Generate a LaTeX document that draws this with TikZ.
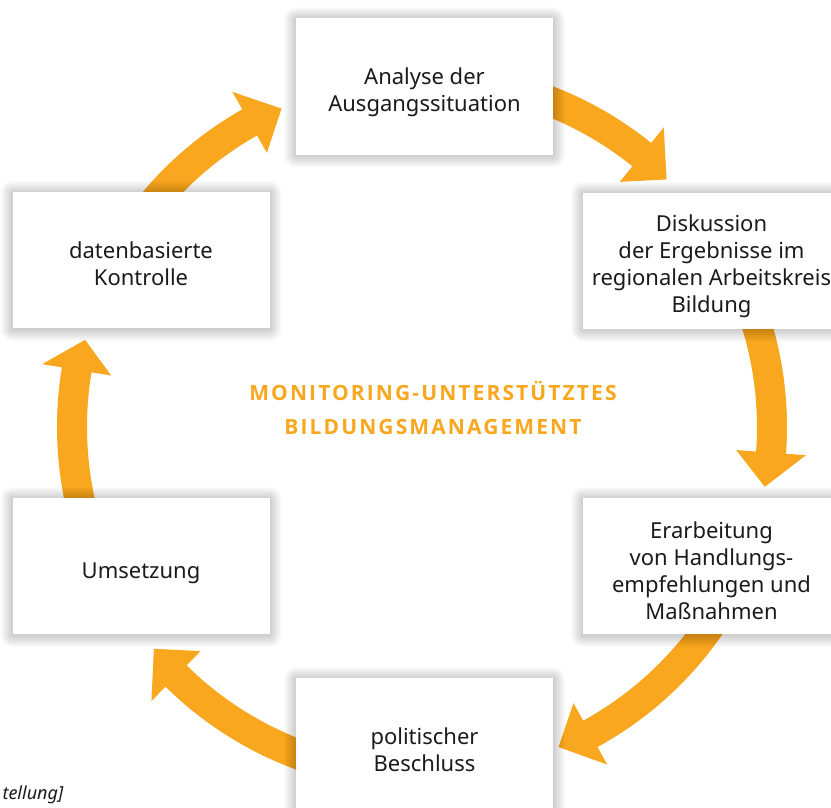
\documentclass[tikz,border=0pt]{standalone}
\usepackage{fontspec}
\setmainfont{Noto Sans}
\usetikzlibrary{calc}
\definecolor{flow}{HTML}{F8A71E}
\definecolor{ink}{HTML}{1B1B1B}
% bold face for the centre heading
\IfFontExistsTF{Noto Sans Bold}
  {\newfontfamily\titlefont[LetterSpace=10]{Noto Sans Bold}}
  {\IfFontExistsTF{Open Sans Bold}
    {\newfontfamily\titlefont[LetterSpace=10]{Open Sans Bold}}
    {\newfontfamily\titlefont[LetterSpace=15,FakeBold=3]{Noto Sans}}}

% a curved cycle arrow: shaft on the ring, triangular head
% #1 start angle, #2 head base angle, #3 tip angle, #4 name
\newcommand\cyclearrow[4]{%
  \coordinate (#4s) at ($(cyc)+(#1:350)$);
  \coordinate (#4t) at ($(cyc)+(#3:348)$);
  \draw[shaft] (#4s) arc[start angle=#1, end angle=#2+0.6, radius=350];
  \fill[flow] ($(cyc)+(#2:385)$) -- (#4t) -- ($(cyc)+(#2:315)$) -- cycle;
}

% soft shadow behind a box, the box, and its text
% #1 name, #2 centre, #3 baseline of last line (from centre), #4 text
\newcommand\stepnode[4]{%
  \foreach \s in {1,...,12} {
    \fill[black, opacity=0.014, rounded corners=\s pt]
      ($(#2)+(-128.5-\s,-68-\s+1)$) rectangle ($(#2)+(128.5+\s,68+\s+1)$);
  }
  \node[stepbox] (#1) at (#2) {};
  \node[steptext] (#1 text) at ($(#1.center)+(0,#3)$) {#4};
}

\begin{document}
\begin{tikzpicture}[x=1pt, y=-1pt,
    shaft/.style={draw=flow, line width=30pt, line cap=butt},
    stepbox/.style={fill=white, minimum width=257pt, minimum height=136pt,
      inner sep=0pt},
    steptext/.style={inner sep=0pt, text height=0pt, text depth=0pt,
      align=center, text=ink, font=\fontsize{22}{27}\selectfont},
    headline/.style={inner sep=0pt, text height=0pt, text depth=0pt,
      align=center, text=flow, font=\titlefont\fontsize{21}{33.5}\selectfont},
    source/.style={anchor=base west, text=ink,
      font=\itshape\fontsize{18}{22}\selectfont}]
  \useasboundingbox (0,0) rectangle (831,808);
  \clip (0,0) rectangle (831,808);
  \fill[white] (0,0) rectangle (831,808);

  \coordinate (cyc) at (422,427);

  % arrows around the ring (clockwise on the page)
  \cyclearrow{-150}{-119.5}{-113.8}{a1}
  \cyclearrow{-90}{-51.1}{-45.35}{a2}
  \cyclearrow{-30}{4.2}{9.9}{a3}
  \cyclearrow{30}{61.25}{66.9}{a4}
  \cyclearrow{90}{134.65}{140.4}{a5}
  \cyclearrow{150}{189.4}{194.5}{a6}

  % process steps
  \stepnode{ana}{424.5,86.5}{25}{Analyse der\\Ausgangssituation}
  \stepnode{dis}{711.5,260.5}{52}{Diskussion\\der Ergebnisse im\\regionalen Arbeitskreis\\Bildung}
  \stepnode{era}{711.5,566}{53}{Erarbeitung\\von Handlungs-\\empfehlungen und\\Maßnahmen}
  \stepnode{bes}{424.5,746}{25}{politischer\\Beschluss}
  \stepnode{ums}{141,566}{12}{Umsetzung}
  \stepnode{kon}{141,260}{25.5}{datenbasierte\\Kontrolle}

  \node[headline] (title) at (433,434) {MONITORING-UNTERSTÜTZTES\\BILDUNGSMANAGEMENT};

  \node[source] (src) at (-1,799) {tellung]};
\end{tikzpicture}
\end{document}
